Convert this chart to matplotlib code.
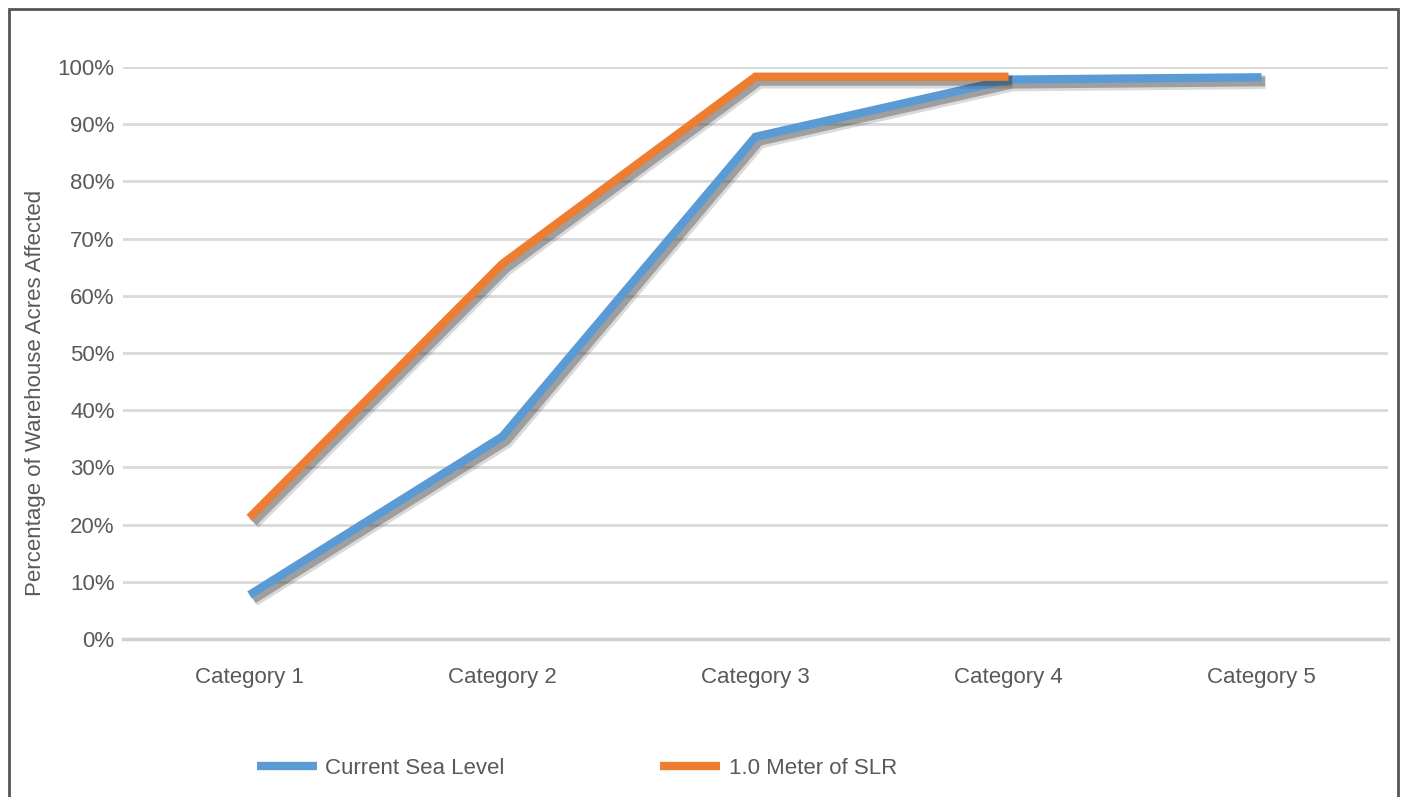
import numpy as np
import matplotlib
matplotlib.use('Agg')
import matplotlib.pyplot as plt
import matplotlib.patheffects as pe
from matplotlib.patches import Rectangle

# ---------------------------------------------------------------------
# data

categories = ['Category 1', 'Category 2', 'Category 3', 'Category 4', 'Category 5']
current_sea_level = [0.077, 0.354, 0.878, 0.978, 0.982]
one_meter_slr = [0.212, 0.656, 0.983, 0.983, np.nan]
y_ticks = [0.0, 0.1, 0.2, 0.3, 0.4, 0.5, 0.6, 0.7, 0.8, 0.9, 1.0]
y_tick_labels = ['0%', '10%', '20%', '30%', '40%', '50%',
                 '60%', '70%', '80%', '90%', '100%']

BLUE = '#5b9bd5'
ORANGE = '#ed7d31'
TEXT = '#595959'

# ---------------------------------------------------------------------

plt.rcParams['font.family'] = ['Liberation Sans', 'DejaVu Sans']

fig = plt.figure(figsize=(14.01, 7.97), dpi=100)
ax = fig.add_axes([123 / 1401, 158 / 797, 1265 / 1401, 572 / 797])

x = np.arange(len(categories))

# soft drop shadow under each line
shadow = [pe.SimpleLineShadow(offset=(3, -3.5), shadow_color='#333333', alpha=0.18, linewidth=10),
          pe.SimpleLineShadow(offset=(2.5, -3), shadow_color='#333333', alpha=0.35, linewidth=7),
          pe.Normal()]

ax.plot(x, current_sea_level, color=BLUE, lw=6, solid_capstyle='butt',
        solid_joinstyle='miter', path_effects=shadow, clip_on=False,
        label='Current Sea Level', zorder=3)
ax.plot(x, one_meter_slr, color=ORANGE, lw=6, solid_capstyle='butt',
        solid_joinstyle='miter', path_effects=shadow, clip_on=False,
        label='1.0 Meter of SLR', zorder=4)

ax.set_xlim(-0.5, len(categories) - 0.5)
ax.set_ylim(0, 1)

ax.set_xticks(x)
ax.set_xticklabels(categories)
ax.set_yticks(y_ticks)
ax.set_yticklabels(y_tick_labels)
ax.tick_params(axis='both', length=0, labelsize=16, labelcolor=TEXT)
ax.tick_params(axis='x', pad=20)
ax.tick_params(axis='y', pad=6)

ax.grid(axis='y', color='#d9d9d9', lw=2)
ax.set_axisbelow(True)
for side in ['top', 'right', 'left']:
    ax.spines[side].set_visible(False)
ax.spines['bottom'].set_color('#d0d0d0')
ax.spines['bottom'].set_linewidth(2.5)

ax.set_ylabel('Percentage of Warehouse Acres Affected', fontsize=16,
              color=TEXT, labelpad=10)
ax.yaxis.set_label_coords(-0.0605, 0.43)

leg = fig.legend(loc='center', bbox_to_anchor=(577 / 1401, 29 / 797), ncol=2,
                 frameon=False, fontsize=16, handlelength=2.7,
                 handletextpad=0.4, columnspacing=7.0)
for line in leg.get_lines():
    line.set_linewidth(6)
    line.set_path_effects([])
for t in leg.get_texts():
    t.set_color(TEXT)

# outer frame
fig.patches.append(Rectangle((8.5 / 1401, -0.1), 1389 / 1401, (797 - 9) / 797 + 0.1,
                             transform=fig.transFigure, fill=False,
                             edgecolor='#555555', lw=2))

fig.savefig('out.png', dpi=100)
